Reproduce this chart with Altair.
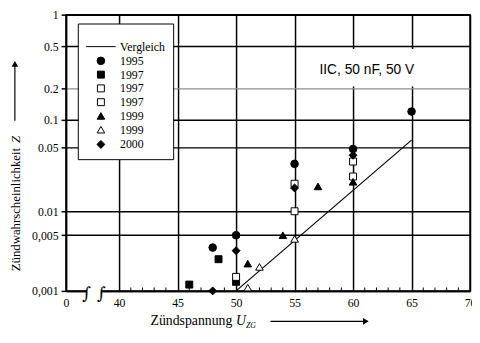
import altair as alt
import pandas as pd

# ---------------- data ----------------
series_names = ["Vergleich", "1995", "1997", "1997 ", "1997  ", "1999", "1999 ", "2000"]
series_shapes = ["stroke", "circle", "square", "square", "square", "triangle-up", "triangle-up", "diamond"]
series_fills = ["black", "black", "black", "white", "white", "black", "white", "black"]
series_sizes = [900, 60, 50, 50, 50, 60, 60, 65]

x_1995 = [48, 50, 55, 60, 65]
y_1995 = [0.0035, 0.005, 0.033, 0.048, 0.12]
x_1997a = [46, 48.5, 50]
y_1997a = [0.0012, 0.0025, 0.0013]
x_1997b = [50, 55, 60]
y_1997b = [0.0015, 0.02, 0.035]
x_1997c = [55, 60]
y_1997c = [0.01, 0.024]
x_1999a = [51, 54, 57, 60]
y_1999a = [0.0022, 0.005, 0.0187, 0.021]
x_1999b = [51, 52, 55]
y_1999b = [0.0011, 0.002, 0.0045]
x_2000 = [48, 50, 55, 60]
y_2000 = [0.001, 0.0032, 0.018, 0.041]

vergleich_x = [50, 65]
vergleich_y = [0.001, 0.06]

x_ticks = [35.46, 40, 45, 50, 55, 60, 65, 70]
x_tick_labels = ["0", "40", "45", "50", "55", "60", "65", "70"]
y_ticks = [0.001, 0.005, 0.01, 0.05, 0.1, 0.2, 0.5, 1]
y_tick_labels = ["0,001", "0,005", "0.01", "0.05", "0.1", "0.2", "0.5", "1"]
minor_ticks = [v for v in range(41, 70) if v % 5 != 0]
break_x = [37.22, 38.49]

# ---------------- tables ----------------
groups = [
    ("1995", x_1995, y_1995), ("1997", x_1997a, y_1997a), ("1997 ", x_1997b, y_1997b),
    ("1997  ", x_1997c, y_1997c), ("1999", x_1999a, y_1999a), ("1999 ", x_1999b, y_1999b),
    ("2000", x_2000, y_2000),
]
rows = []
for name, xs, ys in groups:
    rows += [{"series": name, "U": a, "Z": b} for a, b in zip(xs, ys)]
points_df = pd.DataFrame(rows)
line_df = pd.DataFrame({"U": vergleich_x, "Z": vergleich_y})
minor_df = pd.DataFrame({"U": minor_ticks})
break_df = pd.DataFrame({"U": break_x})
one = alt.Data(values=[{"k": 0}])

# ---------------- scales & axes ----------------
SERIF = "Liberation Serif, Times New Roman, serif"
W, H = 411, 281
x_scale = alt.Scale(domain=[x_ticks[0], x_ticks[-1]], nice=False, zero=False)
y_scale = alt.Scale(type="log", domain=[0.001, 0.01, 0.1, 1], range=[281, 200, 107, 0], nice=False)

x_label_expr = "datum.value < 36 ? '" + x_tick_labels[0] + "' : datum.label"
y_label_expr = "''"
for v, lab in zip(y_ticks, y_tick_labels):
    y_label_expr = f"abs(datum.value - {v}) < {v / 1000} ? '{lab}' : " + y_label_expr

x_axis = alt.Axis(values=x_ticks, labelExpr=x_label_expr, title=None, grid=True,
                  gridColor="black", gridWidth=1.5, ticks=False, domainColor="black",
                  domainWidth=1.5, labelFont=SERIF, labelFontSize=12, labelColor="black",
                  labelPadding=7, labelFlush=False, labelOverlap=False)
y_axis = alt.Axis(values=y_ticks, labelExpr=y_label_expr, title=None, grid=True,
                  gridColor={"condition": {"test": "abs(datum.value - 0.2) < 0.001", "value": "#8c8c8c"},
                             "value": "black"},
                  gridWidth=1.5, tickColor="black", tickSize=5, tickWidth=1.5,
                  domainColor="black", domainWidth=1.5, labelFont=SERIF, labelFontSize=12,
                  labelColor="black", labelPadding=3, labelFlush=False, labelOverlap=False)

X = lambda f: alt.X(f, scale=x_scale, axis=x_axis)
Y = lambda f: alt.Y(f, scale=y_scale, axis=y_axis)

legend = alt.Legend(orient="none", legendX=12, legendY=9, title=None, strokeColor="black",
                    fillColor="white", padding=8, labelFont=SERIF, labelFontSize=12,
                    labelColor="black", symbolStrokeColor="black", symbolStrokeWidth=1,
                    rowPadding=2, labelOffset=4, cornerRadius=0)

# ---------------- layers ----------------
minor = alt.Chart(minor_df).mark_rule(color="black", strokeWidth=1).encode(
    x=X("U:Q"), y=alt.YDatum(0.001, scale=y_scale, axis=y_axis), y2=alt.value(277.5))

breaks_rect = alt.Chart(pd.DataFrame({"a": [break_x[0] + 0.05], "b": [break_x[1] - 0.05]})).mark_rect(
    fill="white").encode(x=X("a:Q"), x2="b:Q", y=alt.value(276), y2=alt.value(287))

squiggles = alt.Chart(break_df).mark_text(text="∫", font="DejaVu Serif", fontSize=17,
                                           color="black", baseline="middle").encode(
    x=X("U:Q"), y=alt.value(284))

vergleich = alt.Chart(line_df).mark_line(color="black", strokeWidth=1.2).encode(
    x=X("U:Q"), y=Y("Z:Q"))

pts = alt.Chart(points_df).mark_point(filled=True, stroke="black", strokeWidth=1, opacity=1).encode(
    x=X("U:Q"), y=Y("Z:Q"),
    shape=alt.Shape("series:N", scale=alt.Scale(domain=series_names, range=series_shapes), legend=legend),
    fill=alt.Fill("series:N", scale=alt.Scale(domain=series_names, range=series_fills)),
    size=alt.Size("series:N", scale=alt.Scale(type="ordinal", domain=series_names, range=series_sizes)),
)


def txt(text, x, y, **kw):
    return alt.Chart(one).mark_text(text=text, color="black", **kw).encode(
        x=alt.value(x), y=alt.value(y))


note_box = alt.Chart(one).mark_rect(fill="white").encode(
    x=alt.value(238), x2=alt.value(378), y=alt.value(35), y2=alt.value(73))
note = txt("IIC, 50 nF, 50 V", 306, 56, font="Liberation Sans", fontSize=14,
           align="center", baseline="middle")

ytitle1 = txt("Zündwahrscheinlichkeit", -51, 261, font=SERIF, fontSize=13, angle=270,
              align="left", baseline="middle")
ytitle2 = txt("Z", -51, 127, font=SERIF, fontSize=13, fontStyle="italic", angle=270,
              align="center", baseline="middle")
yarrow = alt.Chart(one).mark_rule(color="black", strokeWidth=1.2).encode(
    x=alt.value(-52), y=alt.value(108), y2=alt.value(52))
yhead = alt.Chart(one).mark_point(shape="triangle-up", filled=True, color="black", size=45,
                                  opacity=1).encode(x=alt.value(-52), y=alt.value(50))

xtitle1 = txt("Zündspannung", 86, 316, font=SERIF, fontSize=14, align="left", baseline="alphabetic")
xtitle2 = txt("U", 173, 316, font=SERIF, fontSize=14, fontStyle="italic", align="left",
              baseline="alphabetic")
xtitle3 = txt("ZG", 183, 319, font=SERIF, fontSize=8, fontStyle="italic", align="left",
              baseline="alphabetic")
xarrow = alt.Chart(one).mark_rule(color="black", strokeWidth=1.2).encode(
    x=alt.value(208), x2=alt.value(302), y=alt.value(312))
xhead = alt.Chart(one).mark_point(shape="triangle-right", filled=True, color="black", size=45,
                                  opacity=1).encode(x=alt.value(305), y=alt.value(312))

chart = alt.layer(
    minor, breaks_rect, squiggles, note_box, note, vergleich, pts,
    ytitle1, ytitle2, yarrow, yhead, xtitle1, xtitle2, xtitle3, xarrow, xhead,
).properties(
    width=W, height=H,
    padding={"left": 59, "top": 4, "right": 2, "bottom": 37},
    autosize=alt.AutoSizeParams(type="none"),
    background="white",
).configure_view(stroke="black", strokeWidth=1.5)

chart.save("out.html", embed_options={"renderer": "svg", "actions": False})
